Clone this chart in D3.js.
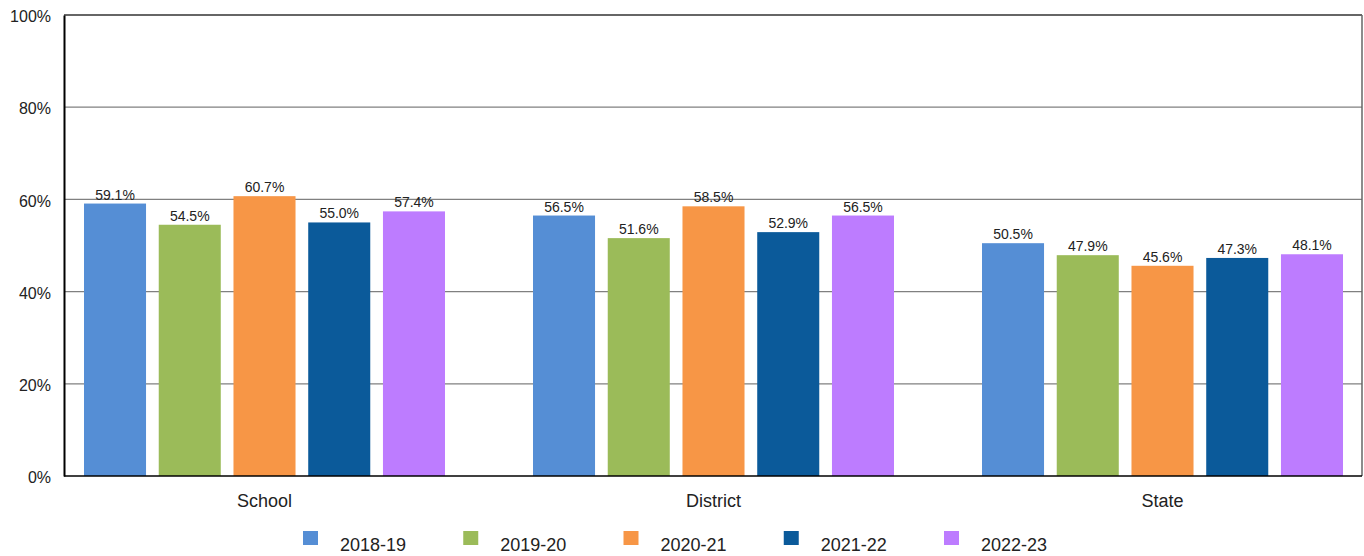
<!DOCTYPE html>
<html>
<head>
<meta charset="utf-8">
<script src="https://cdn.jsdelivr.net/npm/d3@7"></script>
<style>
  html, body { margin: 0; padding: 0; background: #fff; }
  svg { display: block; font-family: "Liberation Sans", Arial, sans-serif; }
</style>
</head>
<body>
<svg id="chart" width="1364" height="556"></svg>
<script>
const categories = ["School", "District", "State"];
const seriesNames = ["2018-19", "2019-20", "2020-21", "2021-22", "2022-23"];
const series2018_19 = [59.1, 56.5, 50.5];
const series2019_20 = [54.5, 51.6, 47.9];
const series2020_21 = [60.7, 58.5, 45.6];
const series2021_22 = [55.0, 52.9, 47.3];
const series2022_23 = [57.4, 56.5, 48.1];
const seriesValues = [series2018_19, series2019_20, series2020_21, series2021_22, series2022_23];
const colors = ["#558ED5", "#9BBB59", "#F79646", "#0B5A9A", "#BD7CFF"];
const yTicks = [0, 20, 40, 60, 80, 100];

const svg = d3.select("#chart");
const plot = { left: 64, right: 1362, top: 15, bottom: 476 };

const y = d3.scaleLinear().domain([0, 100]).range([plot.bottom, plot.top]);
const x0 = d3.scaleBand().domain(categories).range([40, 1387]).paddingInner(0).paddingOuter(0);
const x1 = d3.scaleBand().domain(seriesNames).range([44, 405]).paddingInner(0.17).paddingOuter(0);

// gridlines
svg.append("g").selectAll("line").data(yTicks.filter(t => t > 0 && t < 100)).join("line")
  .attr("x1", plot.left).attr("x2", plot.right)
  .attr("y1", d => y(d)).attr("y2", d => y(d))
  .attr("stroke", "#808080").attr("stroke-width", 1.3);

// top & right border
svg.append("line").attr("x1", plot.left).attr("x2", plot.right).attr("y1", y(100)).attr("y2", y(100))
  .attr("stroke", "#333").attr("stroke-width", 1.5);
svg.append("line").attr("x1", plot.right).attr("x2", plot.right).attr("y1", y(100)).attr("y2", y(0))
  .attr("stroke", "#666").attr("stroke-width", 1.5);

// bars
const data = [];
categories.forEach((c, ci) => {
  seriesNames.forEach((s, si) => data.push({ cat: c, ser: s, si, v: seriesValues[si][ci] }));
});

const bars = svg.append("g");
bars.selectAll("rect").data(data).join("rect")
  .attr("x", d => x0(d.cat) + x1(d.ser))
  .attr("width", x1.bandwidth())
  .attr("y", d => y(d.v))
  .attr("height", d => y(0) - y(d.v))
  .attr("fill", d => colors[d.si]);

bars.selectAll("text").data(data).join("text")
  .attr("x", d => x0(d.cat) + x1(d.ser) + x1.bandwidth() / 2)
  .attr("y", d => y(d.v) - 4)
  .attr("text-anchor", "middle")
  .attr("font-size", 14)
  .attr("fill", "#222")
  .text(d => d.v.toFixed(1) + "%");

// y axis
const yAxis = d3.axisLeft(y).tickValues(yTicks).tickSize(0).tickPadding(13).tickFormat(d => d + "%");
const ya = svg.append("g").attr("transform", `translate(${plot.left},0)`).call(yAxis);
ya.select(".domain").attr("stroke", "#000").attr("stroke-width", 2);
ya.selectAll("text").attr("font-size", 16).attr("fill", "#222")
  .attr("font-family", "Liberation Sans, Arial, sans-serif").attr("dy", "0.42em");

// x axis
const xAxis = d3.axisBottom(x0).tickSize(0).tickPadding(0);
const xa = svg.append("g").attr("transform", `translate(0,${plot.bottom})`).call(xAxis);
xa.select(".domain").remove();
svg.append("line").attr("x1", plot.left).attr("x2", plot.right).attr("y1", plot.bottom).attr("y2", plot.bottom)
  .attr("stroke", "#000").attr("stroke-width", 1.5);
xa.selectAll("text").attr("font-size", 18).attr("fill", "#222")
  .attr("font-family", "Liberation Sans, Arial, sans-serif").attr("dy", null).attr("y", 31);

// legend
const lx = d3.scalePoint().domain(seriesNames).range([303, 944]);
const leg = svg.append("g").selectAll("g").data(seriesNames).join("g")
  .attr("transform", d => `translate(${lx(d)},0)`);
leg.append("rect").attr("x", 0).attr("y", 531).attr("width", 15).attr("height", 14)
  .attr("fill", (d, i) => colors[i]);
leg.append("text").attr("x", 37).attr("y", 551).attr("font-size", 18).attr("fill", "#222").text(d => d);
</script>
</body>
</html>
